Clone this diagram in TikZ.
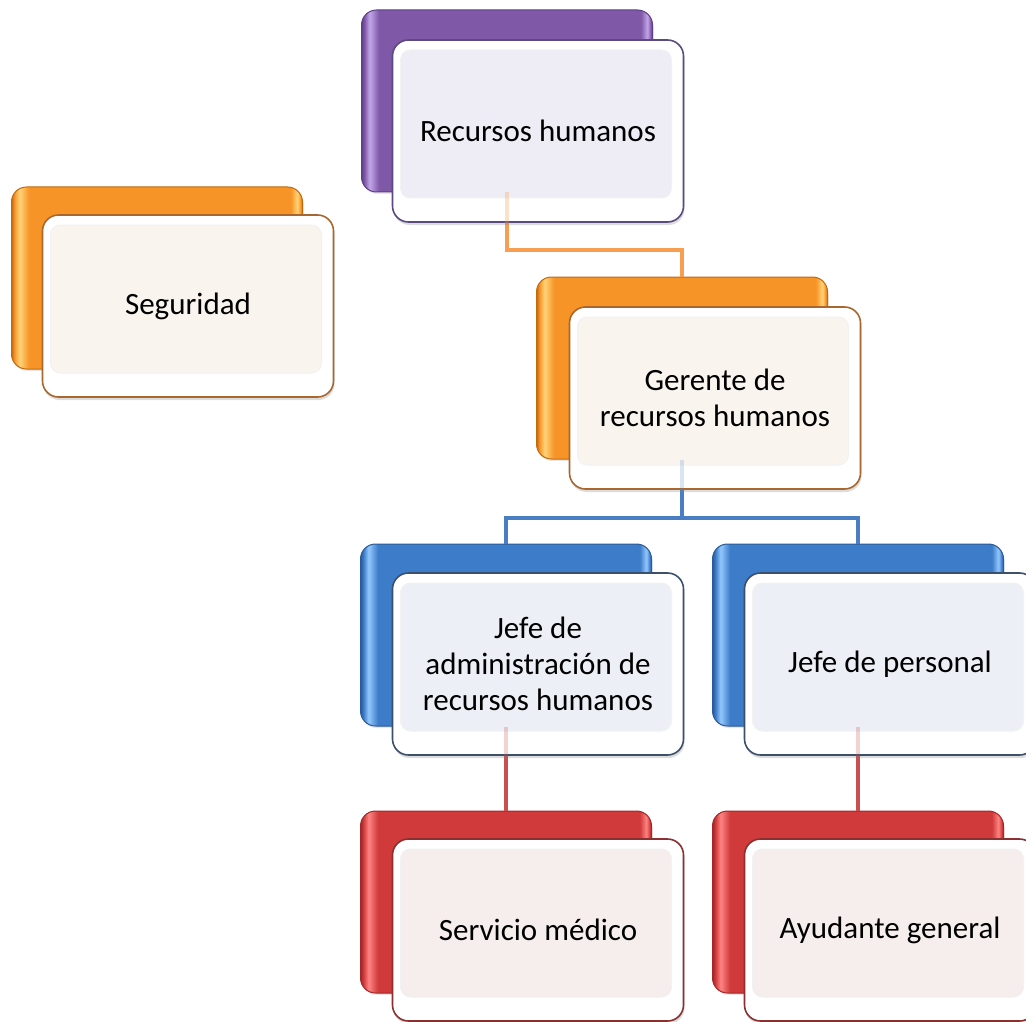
\documentclass[tikz,border=0pt]{standalone}
\usepackage{fontspec}
\setmainfont{Carlito}
\usetikzlibrary{shadows}
% colours
\definecolor{pmain}{HTML}{7F58A8}\definecolor{pdark}{HTML}{5E4083}\definecolor{plight}{HTML}{C4A6EA}
\definecolor{ptint}{HTML}{EEECF4}\definecolor{pbord}{HTML}{5B4A80}
\definecolor{omain}{HTML}{F79428}\definecolor{odark}{HTML}{C06A10}\definecolor{olight}{HTML}{FFD478}
\definecolor{otint}{HTML}{FAF4EF}\definecolor{obord}{HTML}{A8672E}
\definecolor{bmain}{HTML}{3C7CC8}\definecolor{bdark}{HTML}{2A5A98}\definecolor{blight}{HTML}{94C8FF}
\definecolor{btint}{HTML}{ECF0F6}\definecolor{bbord}{HTML}{3C506C}
\definecolor{rmain}{HTML}{D03A3A}\definecolor{rdark}{HTML}{A02828}\definecolor{rlight}{HTML}{FF8484}
\definecolor{rtint}{HTML}{F6EDED}\definecolor{rbord}{HTML}{8A3030}
\definecolor{lorange}{HTML}{F89E50}\definecolor{lblue}{HTML}{4A7EC4}\definecolor{lred}{HTML}{C85050}
\newcommand{\mkgloss}[4]{%
\pgfdeclarehorizontalshading{#1}{100bp}{color(0bp)=(#2); color(25bp)=(#2); color(25.5bp)=(#3); color(26.4bp)=(#4); color(28bp)=(#3); color(73bp)=(#3); color(74.1bp)=(#4); color(74.7bp)=(#3); color(75bp)=(#2); color(100bp)=(#2)}}
\mkgloss{glosspurple}{pdark}{pmain}{plight}
\mkgloss{glossorange}{odark}{omain}{olight}
\mkgloss{glossblue}{bdark}{bmain}{blight}
\mkgloss{glossred}{rdark}{rmain}{rlight}
\tikzset{
  backbox/.style 2 args={rounded corners=15pt, minimum width=291pt, minimum height=182pt,
    inner sep=0pt, shading=#1, draw=#2, line width=1pt,
    drop shadow={shadow xshift=1pt, shadow yshift=-2pt, opacity=.2}},
  frontbox/.style 2 args={rounded corners=16pt, minimum width=291pt, minimum height=182pt,
    inner sep=0pt, fill=white, draw=#2, line width=1.6pt, align=center,
    font=\fontsize{31}{36}\selectfont,
    drop shadow={shadow xshift=1pt, shadow yshift=-3pt, opacity=.28},
    path picture={
      \fill[#1, rounded corners=10pt, draw=black!5, line width=1pt]
        ([shift={(8pt,-10pt)}]path picture bounding box.north west) rectangle
        ([shift={(-12pt,24pt)}]path picture bounding box.south east);
    }},
  conn/.style={line width=4.5pt, draw=#1, line join=miter},
}
\begin{document}
\begin{tikzpicture}[x=1pt,y=-1pt]
\useasboundingbox (0,0) rectangle (1026,1022);
\clip (0,0) rectangle (1026,1022);
% back boxes
\node[backbox={glosspurple}{pdark}] (rhb) at (507,101) {};
\node[backbox={glossorange}{odark}] (segb) at (157,278) {};
\node[backbox={glossorange}{odark}] (gerb) at (682,368) {};
\node[backbox={glossblue}{bdark}] (jab) at (506,635) {};
\node[backbox={glossblue}{bdark}] (jpb) at (858,635) {};
\node[backbox={glossred}{rdark}] (smb) at (506,902) {};
\node[backbox={glossred}{rdark}] (agb) at (858,902) {};
% junctions
\coordinate (j1) at (0,250);
\coordinate (j2) at (0,518);
% connectors
\draw[conn=lorange] (rhb.south) -- (rhb.south |- j1) -| (gerb.north);
\draw[conn=lblue] (gerb.south) -- (gerb.south |- j2);
\draw[conn=lblue] (jab.north) -- (jab.north |- j2) -- (jpb.north |- j2) -- (jpb.north);
\draw[conn=lred] (jab.south) -- (smb.north);
\draw[conn=lred] (jpb.south) -- (agb.north);
% front boxes
\node[frontbox={ptint}{pbord}] (rhf) at (538,131) {Recursos humanos};
\node[frontbox={otint}{obord}] (segf) at (188,306) {Seguridad};
\node[frontbox={otint}{obord}] (gerf) at (715,398) {Gerente de\\recursos humanos};
\node[frontbox={btint}{bbord}] (jaf) at (538,664) {Jefe de\\administración de\\recursos humanos};
\node[frontbox={btint}{bbord}] (jpf) at (890,664) {Jefe de personal};
\node[frontbox={rtint}{rbord}] (smf) at (538,930) {Servicio médico};
\node[frontbox={rtint}{rbord}] (agf) at (890,930) {Ayudante general};
% connectors seen faintly through the front boxes
\draw[conn=lorange, opacity=.3] (rhb.south) -- (rhb.south |- rhf.south);
\draw[conn=lblue, opacity=.2] (gerb.south) -- (gerb.south |- gerf.south);
\draw[conn=lred, opacity=.25] (jab.south) -- (jab.south |- jaf.south);
\draw[conn=lred, opacity=.25] (jpb.south) -- (jpb.south |- jpf.south);
\end{tikzpicture}
\end{document}
